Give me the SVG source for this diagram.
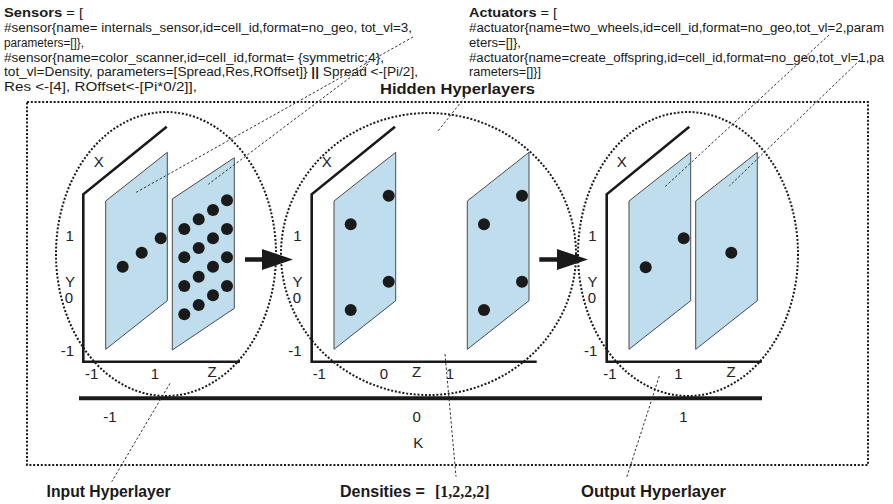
<svg xmlns="http://www.w3.org/2000/svg" width="893" height="504" viewBox="0 0 893 504">
  <defs>
    <style>
      .code { font-family: "Liberation Sans", Arial, sans-serif; font-size: 12.5px; fill: #1a1a1a; }
      .bold { font-weight: bold; }
      .title { font-family: "Liberation Sans", Arial, sans-serif; font-size: 14px; font-weight: bold; fill: #1a1a1a; }
      .caption { font-family: "Liberation Sans", Arial, sans-serif; font-size: 16px; font-weight: bold; fill: #1a1a1a; }
      .serif { font-family: "Liberation Serif", "Times New Roman", serif; }
      .lbl { font-family: "Liberation Sans", Arial, sans-serif; font-size: 15px; fill: #222; text-anchor: middle; }
      .frame { fill: none; stroke: #1a1a1a; stroke-width: 2; stroke-dasharray: 2 1.8; }
      .hull { fill: none; stroke: #1a1a1a; stroke-width: 2; stroke-dasharray: 2 1.8; }
      .axis { fill: none; stroke: #1a1a1a; stroke-width: 2.6; stroke-linejoin: miter; }
      .plane { fill: #bfdded; stroke: #4a4a4a; stroke-width: 1; }
      .node { fill: #1a1a1a; }
      .leader { fill: none; stroke: #333; stroke-width: 1; stroke-dasharray: 2.5 2; }
      .arrow { fill: #1a1a1a; }
    </style>
  </defs>

  <rect width="893" height="504" fill="#ffffff"/>

  <!-- sensor definitions -->
  <g id="sensors-text">
    <text class="code" x="4" y="17.3" textLength="79" lengthAdjust="spacingAndGlyphs"><tspan class="bold">Sensors</tspan> = [</text>
    <text class="code" x="4" y="31.7" textLength="408" lengthAdjust="spacingAndGlyphs">#sensor{name= internals_sensor,id=cell_id,format=no_geo, tot_vl=3,</text>
    <text class="code" x="4" y="46.7" textLength="80" lengthAdjust="spacingAndGlyphs">parameters=[]},</text>
    <text class="code" x="4" y="61.7" textLength="380" lengthAdjust="spacingAndGlyphs">#sensor{name=color_scanner,id=cell_id,format= {symmetric;4},</text>
    <text class="code" x="4" y="76" textLength="414" lengthAdjust="spacingAndGlyphs">tot_vl=Density, parameters=[Spread,Res,ROffset]} <tspan class="bold">||</tspan> Spread &lt;-[Pi/2],</text>
    <text class="code" x="4" y="90.7" textLength="193" lengthAdjust="spacingAndGlyphs">Res &lt;-[4], ROffset&lt;-[Pi*0/2]],</text>
  </g>

  <!-- actuator definitions -->
  <g id="actuators-text">
    <text class="code" x="469" y="17.3" textLength="88" lengthAdjust="spacingAndGlyphs"><tspan class="bold">Actuators</tspan> = [</text>
    <text class="code" x="469" y="31.7" textLength="415" lengthAdjust="spacingAndGlyphs">#actuator{name=two_wheels,id=cell_id,format=no_geo,tot_vl=2,param</text>
    <text class="code" x="469" y="46.7" textLength="52" lengthAdjust="spacingAndGlyphs">eters=[]},</text>
    <text class="code" x="469" y="61.7" textLength="415" lengthAdjust="spacingAndGlyphs">#actuator{name=create_offspring,id=cell_id,format=no_geo,tot_vl=1,pa</text>
    <text class="code" x="469" y="76" textLength="72" lengthAdjust="spacingAndGlyphs">rameters=[]}]</text>
  </g>

  <g id="hidden-title">
    <text class="title" x="380" y="94" textLength="155" lengthAdjust="spacingAndGlyphs">Hidden Hyperlayers</text>
  </g>

  <!-- substrate frame -->
  <g id="substrate-frame">
    <rect class="frame" x="27" y="102" width="841" height="363"/>
  </g>

  <!-- input hyperlayer: K = -1 -->
  <g id="input-hyperlayer">
    <ellipse class="hull" cx="166" cy="254" rx="110" ry="142"/>
    <path class="axis" d="M166.7,126.7 L83.3,194.3 L83.3,361.7 L240,361.7"/>
    <polygon class="plane" points="105.7,201 167.3,152.3 167.3,300.7 105.7,349.3"/>
    <polygon class="plane" points="172.3,199 234.3,157.7 234.3,308.3 172.3,350"/>
    <g class="node">
      <circle cx="122.7" cy="266.7" r="6"/>
      <circle cx="141.7" cy="252.7" r="6"/>
      <circle cx="160.7" cy="238.3" r="6"/>
      <circle cx="184.3" cy="229" r="6"/><circle cx="198.7" cy="219.3" r="6"/><circle cx="213" cy="210" r="6"/><circle cx="227" cy="200.3" r="6"/>
      <circle cx="184.3" cy="257.3" r="6"/><circle cx="198.7" cy="248" r="6"/><circle cx="213" cy="238.3" r="6"/><circle cx="227" cy="229" r="6"/>
      <circle cx="184.3" cy="286" r="6"/><circle cx="198.7" cy="276.7" r="6"/><circle cx="213" cy="266.7" r="6"/><circle cx="227" cy="257.3" r="6"/>
      <circle cx="184.3" cy="314.3" r="6"/><circle cx="198.7" cy="305" r="6"/><circle cx="213" cy="295.3" r="6"/><circle cx="227" cy="286" r="6"/>
    </g>
    <text class="lbl" x="98.7" y="166.7">X</text>
    <text class="lbl" x="69.7" y="240.7">1</text>
    <text class="lbl" x="70" y="286.7">Y</text>
    <text class="lbl" x="69" y="303">0</text>
    <text class="lbl" x="67.5" y="356">-1</text>
    <text class="lbl" x="91.7" y="379">-1</text>
    <text class="lbl" x="155" y="379">1</text>
    <text class="lbl" x="212" y="376.7">Z</text>
  </g>

  <!-- hidden hyperlayers: K = 0 -->
  <g id="hidden-hyperlayers">
    <ellipse class="hull" cx="428.5" cy="254" rx="147.5" ry="141"/>
    <path class="axis" d="M395,126.7 L311.7,194.3 L311.7,361.7 L536.7,361.7"/>
    <polygon class="plane" points="334,201 395.7,152.3 395.7,300.7 334,349.3"/>
    <polygon class="plane" points="467.3,201 529,152.3 529,300.7 467.3,349.3"/>
    <g class="node">
      <circle cx="350.7" cy="224.3" r="6"/>
      <circle cx="388.7" cy="195.7" r="6"/>
      <circle cx="388.7" cy="281.7" r="6"/>
      <circle cx="350.7" cy="310" r="6"/>
      <circle cx="484" cy="224.3" r="6"/>
      <circle cx="522" cy="195.7" r="6"/>
      <circle cx="522" cy="281.7" r="6"/>
      <circle cx="484" cy="310" r="6"/>
    </g>
    <text class="lbl" x="326.7" y="166.7">X</text>
    <text class="lbl" x="297.3" y="240.7">1</text>
    <text class="lbl" x="297.5" y="286.7">Y</text>
    <text class="lbl" x="297" y="303">0</text>
    <text class="lbl" x="295" y="356">-1</text>
    <text class="lbl" x="319.3" y="379">-1</text>
    <text class="lbl" x="384" y="379">0</text>
    <text class="lbl" x="416.7" y="376.7">Z</text>
    <text class="lbl" x="450" y="379">1</text>
  </g>

  <!-- output hyperlayer: K = 1 -->
  <g id="output-hyperlayer">
    <ellipse class="hull" cx="688" cy="254" rx="110" ry="142"/>
    <path class="axis" d="M689.3,126.7 L606.7,194.3 L606.7,361.7 L761.7,361.7"/>
    <polygon class="plane" points="629,201 690.7,152.3 690.7,300.7 629,349.3"/>
    <polygon class="plane" points="695.7,201 757.3,152.3 757.3,300.7 695.7,349.3"/>
    <g class="node">
      <circle cx="645.7" cy="267.3" r="6"/>
      <circle cx="683.7" cy="238.3" r="6"/>
      <circle cx="731.3" cy="252.7" r="6"/>
    </g>
    <text class="lbl" x="621.7" y="166.7">X</text>
    <text class="lbl" x="592.3" y="240.7">1</text>
    <text class="lbl" x="592.5" y="286.7">Y</text>
    <text class="lbl" x="592" y="303">0</text>
    <text class="lbl" x="590.7" y="356">-1</text>
    <text class="lbl" x="610" y="379">-1</text>
    <text class="lbl" x="678.3" y="379">1</text>
    <text class="lbl" x="731" y="376.7">Z</text>
  </g>

  <!-- K axis -->
  <g id="k-axis">
    <line x1="79" y1="398.3" x2="762" y2="398.3" stroke="#1a1a1a" stroke-width="4"/>
    <text class="lbl" x="110" y="421.5">-1</text>
    <text class="lbl" x="416.7" y="421.5">0</text>
    <text class="lbl" x="683.3" y="421.5">1</text>
    <text class="lbl" x="418.3" y="448">K</text>
  </g>

  <!-- arrows and leader lines -->
  <g id="connectors">
    <path class="arrow" d="M245,257.2 L262,257.2 L262,249 L293,259.5 L262,270 L262,261.8 L245,261.8 Z"/>
    <path class="arrow" d="M539.3,257.2 L557,257.2 L557,249 L588,259.5 L557,270 L557,261.8 L539.3,261.8 Z"/>
    <line class="leader" x1="413" y1="37" x2="135" y2="193"/>
    <line class="leader" x1="368" y1="64" x2="208.3" y2="184.3"/>
    <line class="leader" x1="465" y1="97" x2="438.3" y2="130.7"/>
    <line class="leader" x1="829" y1="35" x2="665" y2="186.7"/>
    <line class="leader" x1="860" y1="60" x2="729.3" y2="186"/>
    <line class="leader" x1="170" y1="383.3" x2="111.7" y2="481.7"/>
    <line class="leader" x1="445" y1="354" x2="456" y2="476.7"/>
    <line class="leader" x1="659.3" y1="376" x2="626.7" y2="477.3"/>
  </g>

  <!-- captions -->
  <g id="captions">
    <text class="caption" x="46.6" y="497" textLength="124" lengthAdjust="spacingAndGlyphs">Input Hyperlayer</text>
    <text class="caption" x="340" y="497">Densities = <tspan class="serif" x="435">[1,2,2,2]</tspan></text>
    <text class="caption" x="581" y="497" textLength="145" lengthAdjust="spacingAndGlyphs">Output Hyperlayer</text>
  </g>
</svg>
